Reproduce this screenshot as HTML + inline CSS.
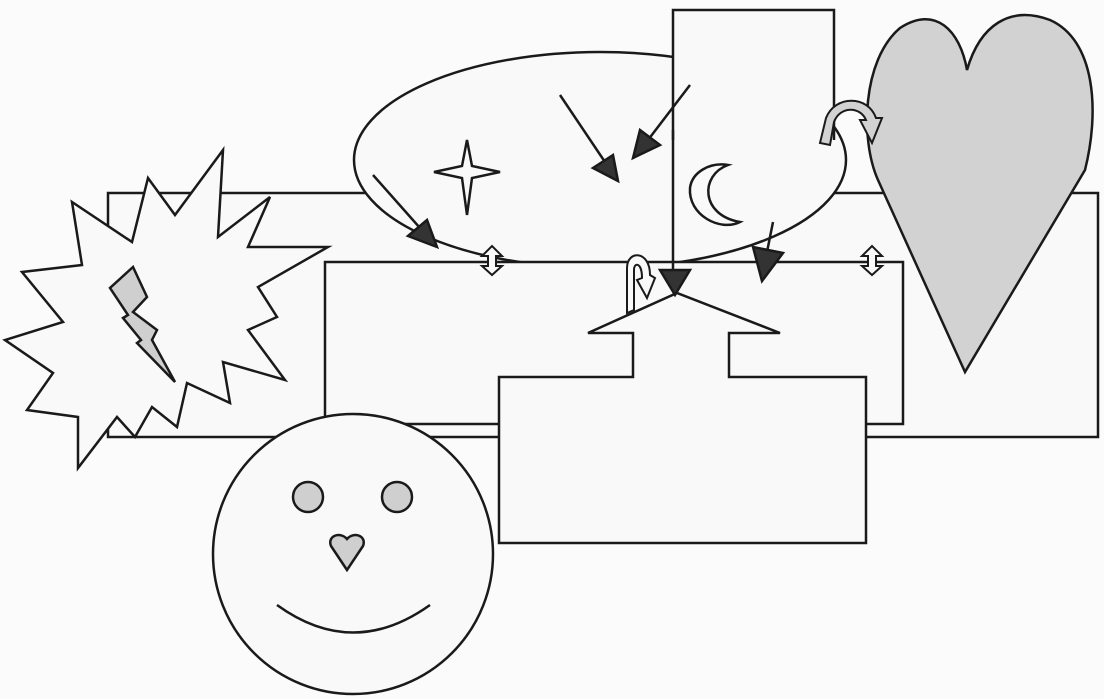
<!DOCTYPE html>
<html><head><style>html,body{margin:0;padding:0;background:#fbfbfb}svg{display:block}</style></head>
<body>
<svg width="1104" height="699" viewBox="0 0 1104 699" xmlns="http://www.w3.org/2000/svg">
<g stroke="#1a1a1a" stroke-width="2.5" fill="#f9f9f9" stroke-linejoin="miter">
<rect x="108" y="193" width="990" height="244"/>
<ellipse cx="600" cy="160" rx="246" ry="108"/>
<!-- tall rect drawn over ellipse, open bottom -->
<rect x="673" y="10" width="161" height="128" stroke="none"/>
<path d="M834,140 L834,10 L673,10 L673,140" fill="none"/>
<path d="M965,372 L878,180 C860,140 862,60 900,28 C935,5 960,30 967,70 C980,25 1010,5 1050,20 C1095,40 1100,110 1085,170 Z" fill="#d2d2d2"/>
<rect x="325" y="262" width="578" height="162"/>
<path d="M499,543 L499,377 L633,377 L633,333 L588,333 L677,293 L780,333 L729,333 L729,377 L866,377 L866,543 Z"/>
<polygon points="223,150 218,237 270,197 248,247 328,247 258,287 277,317 248,330 285,380 223,362 230,403 187,383 177,427 152,407 135,437 117,417 78,468 78,417 27,410 53,373 5,340 63,322 22,272 82,265 72,202 132,242 148,178 175,215"/>
<polygon points="133,267 110,288 128,315 123,318 141,340 137,343 175,382 152,340 157,330 133,312 147,297" fill="#cfcfcf"/>
<circle cx="353" cy="554" r="140"/>
<circle cx="308" cy="497" r="15" fill="#cfcfcf"/>
<circle cx="397" cy="497" r="15" fill="#cfcfcf"/>
<path d="M347,570 L331,546 C327,536 340,531 347,539 C354,531 367,536 363,546 Z" fill="#cfcfcf"/>
<path d="M277,605 Q353,660 430,605" fill="none"/>
<path d="M467,140 L472,166 L500,172 L472,178 L467,215 L462,178 L434,172 L462,166 Z"/>
<path d="M728,165 C700,175 700,215 740,222 C720,232 688,215 690,188 C692,172 710,162 728,165 Z"/>
<line x1="673" y1="130" x2="673" y2="272" fill="none"/>
</g>
<g stroke="#1a1a1a" stroke-width="2.5" fill="#333">
<line x1="373" y1="175" x2="420" y2="228"/>
<polygon points="437,247 408,236 427,220" />
<line x1="560" y1="95" x2="605" y2="162"/>
<polygon points="618,181 593,168 613,155"/>
<line x1="690" y1="85" x2="648" y2="140"/>
<polygon points="633,158 640,130 660,145"/>
<line x1="773" y1="222" x2="766" y2="257"/>
<polygon points="762,281 753,247 783,253"/>
<polygon points="660,270 690,270 675,295"/>
</g>
<g stroke="#1a1a1a" stroke-width="2" fill="#f9f9f9">
<path d="M482,256 L492,246 L502,256 L496,256 L496,266 L502,266 L492,275 L482,266 L488,266 L488,256 Z"/>
<path d="M862,256 L872,246 L882,256 L876,256 L876,266 L882,266 L872,275 L862,266 L868,266 L868,256 Z"/>
<path d="M627,313 L627,268 C627,250 650,250 650,275 L655,278 L647,298 L637,280 L642,278 C642,262 634,262 634,270 L634,310 Z"/>
<path d="M820,143 L826,118 C835,95 868,95 876,118 L882,118 L872,143 L860,120 L866,120 C860,106 840,106 834,122 L830,145 Z" fill="#d2d2d2"/>
</g>
</svg>
</body></html>
